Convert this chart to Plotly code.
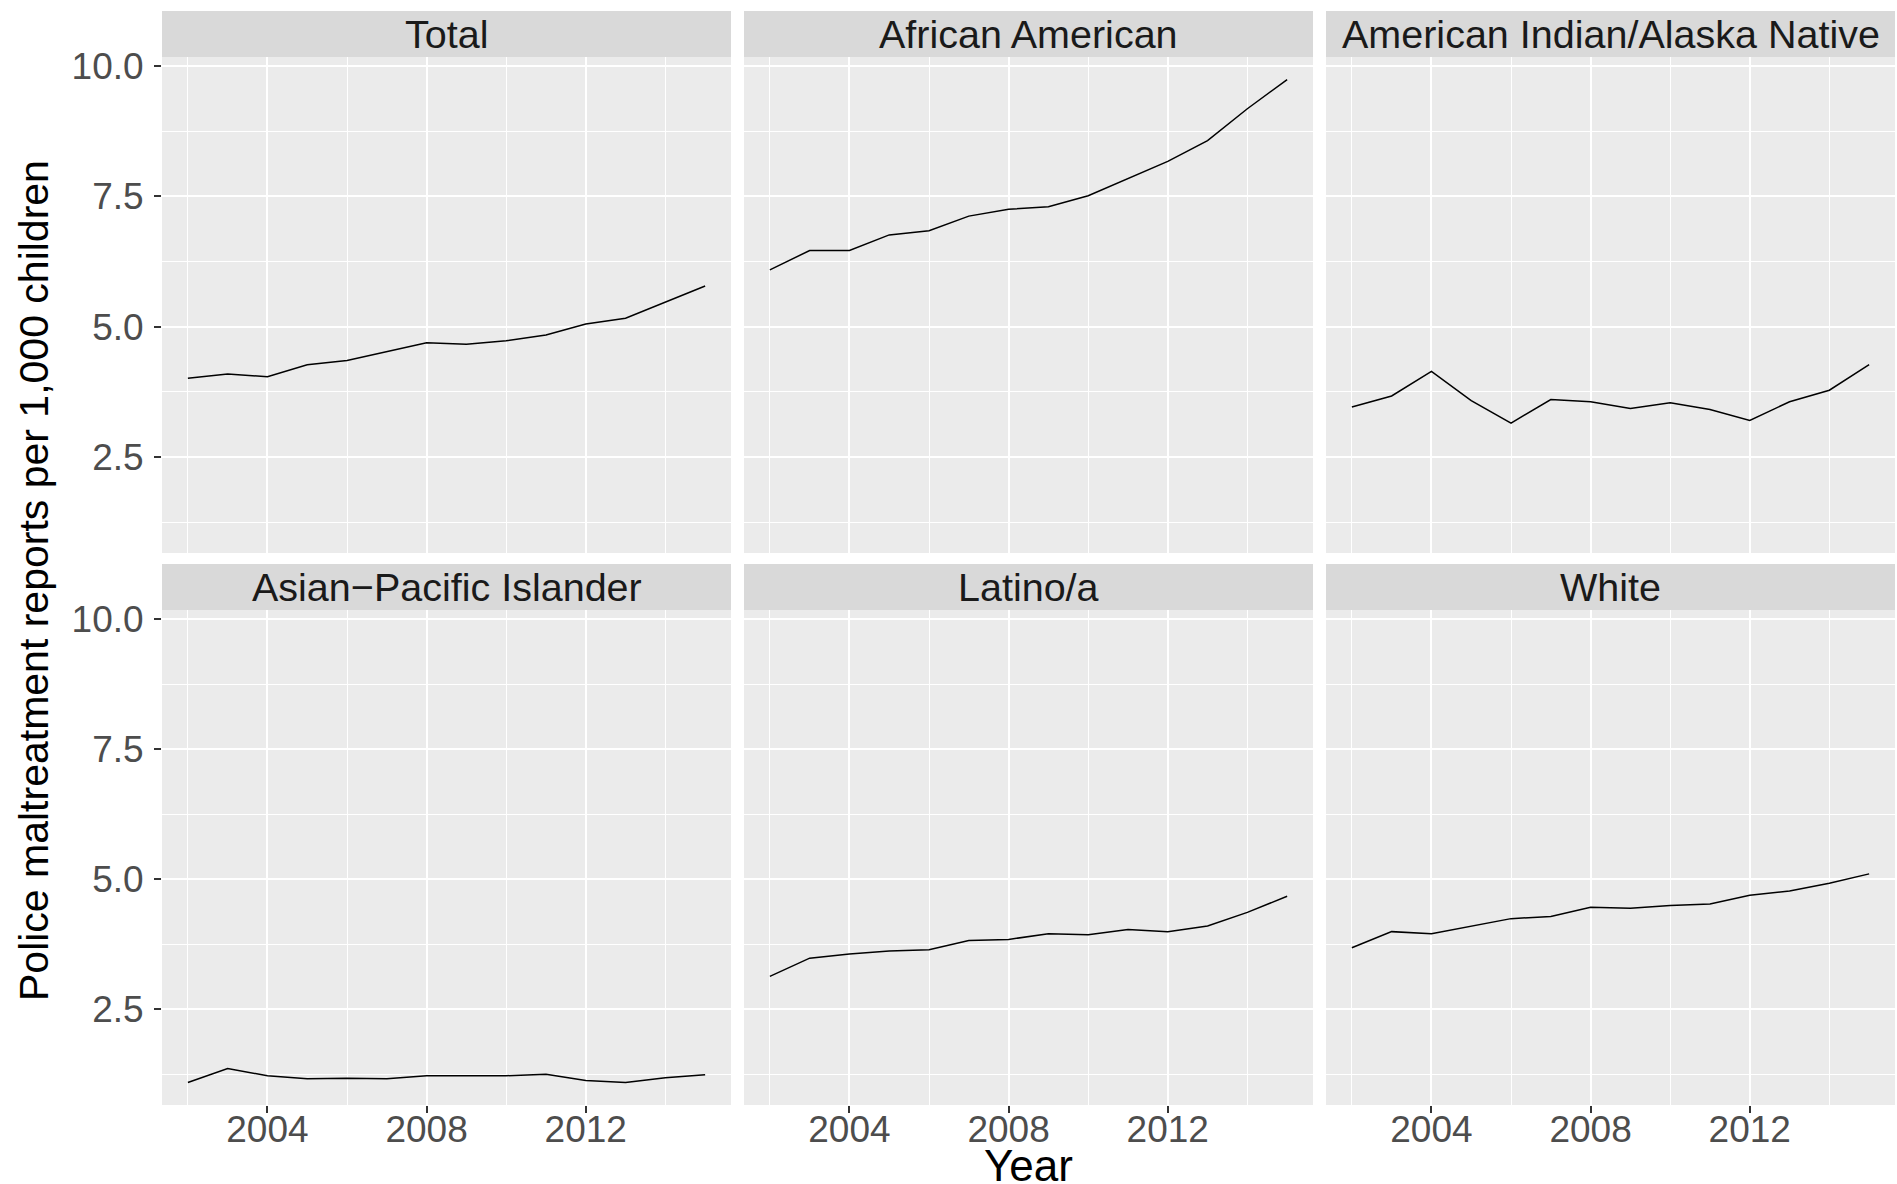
import plotly.graph_objects as go

# Reports per 1,000 children, 2002-2015
years = list(range(2002, 2016))
panel_titles = ["Total", "African American", "American Indian/Alaska Native",
                "Asian\u2212Pacific Islander", "Latino/a", "White"]

total = [4.01, 4.09, 4.04, 4.27, 4.35, 4.52, 4.69, 4.66, 4.73, 4.84, 5.05, 5.16, 5.47, 5.78]
african_american = [6.09, 6.46, 6.46, 6.76, 6.84, 7.12, 7.25, 7.30, 7.51, 7.84, 8.17, 8.57, 9.18, 9.74]
american_indian = [3.46, 3.67, 4.14, 3.58, 3.15, 3.60, 3.56, 3.43, 3.54, 3.41, 3.20, 3.56, 3.78, 4.27]
asian_pacific = [1.09, 1.36, 1.22, 1.16, 1.17, 1.16, 1.22, 1.22, 1.22, 1.25, 1.13, 1.09, 1.18, 1.24]
latino = [3.13, 3.48, 3.56, 3.62, 3.64, 3.82, 3.84, 3.95, 3.93, 4.03, 3.99, 4.10, 4.36, 4.67]
white = [3.68, 3.99, 3.95, 4.09, 4.24, 4.28, 4.46, 4.44, 4.49, 4.52, 4.69, 4.77, 4.92, 5.10]

x_ticks = [2004, 2008, 2012]
x_minor = [2002, 2006, 2010, 2014]
y_ticks = [2.5, 5.0, 7.5, 10.0]
y_minor = [1.25, 3.75, 6.25, 8.75]

series = [total, african_american, american_indian, asian_pacific, latino, white]

# page geometry (pixels)
W, H = 1897, 1184
cols = [(162, 731), (744, 1313), (1326, 1895)]
rows = [(57, 553), (610, 1105)]
strips = [(11, 57), (564, 610)]

# shared scales with 5% padding on each side
all_vals = [v for s in series for v in s]
lo, hi = min(all_vals), max(all_vals)
pad = (hi - lo) * 0.05
y_range = [lo - pad, hi + pad]
xpad = (years[-1] - years[0]) * 0.05
x_range = [years[0] - xpad, years[-1] + xpad]

FONT = "Liberation Sans, Arial, sans-serif"
PANEL_BG = "#EBEBEB"
STRIP_BG = "#D9D9D9"
TICK_FONT = dict(family=FONT, size=37, color="#4D4D4D")

fig = go.Figure()
shapes = []
annotations = []

for i, (title, vals) in enumerate(zip(panel_titles, series)):
    r, c = divmod(i, 3)
    n = i + 1
    xa = "x" if n == 1 else f"x{n}"
    ya = "y" if n == 1 else f"y{n}"
    fig.add_trace(go.Scatter(
        x=years, y=vals, mode="lines", xaxis=xa, yaxis=ya,
        line=dict(color="black", width=1.5), showlegend=False,
        hoverinfo="x+y",
    ))
    x0, x1 = cols[c]
    y0, y1 = rows[r]
    xdom = [x0 / W, x1 / W]
    ydom = [1 - y1 / H, 1 - y0 / H]
    bottom_row = r == 1
    left_col = c == 0
    fig.layout[f"xaxis{'' if n == 1 else n}"] = dict(
        domain=xdom, anchor=ya, range=x_range, automargin=False,
        tickmode="array", tickvals=x_ticks, ticktext=[str(t) for t in x_ticks],
        showticklabels=bottom_row,
        ticks="outside" if bottom_row else "", ticklen=7, tickwidth=1.5, tickcolor="#333333",
        ticklabelstandoff=-15,
        showgrid=True, gridcolor="white", gridwidth=2,
        minor=dict(tickvals=x_minor, showgrid=True, gridcolor="white", gridwidth=1, ticks=""),
        zeroline=False, showline=False,
        tickfont=TICK_FONT,
    )
    fig.layout[f"yaxis{'' if n == 1 else n}"] = dict(
        domain=ydom, anchor=xa, range=y_range, automargin=False,
        tickmode="array", tickvals=y_ticks, ticktext=[f"{t:.1f}" for t in y_ticks],
        showticklabels=left_col,
        ticks="outside" if left_col else "", ticklen=7, tickwidth=1.5, tickcolor="#333333",
        ticklabelstandoff=3,
        showgrid=True, gridcolor="white", gridwidth=2,
        minor=dict(tickvals=y_minor, showgrid=True, gridcolor="white", gridwidth=1, ticks=""),
        zeroline=False, showline=False,
        tickfont=TICK_FONT,
    )
    # panel background
    shapes.append(dict(type="rect", xref="paper", yref="paper", layer="below",
                       x0=xdom[0], x1=xdom[1], y0=ydom[0], y1=ydom[1],
                       fillcolor=PANEL_BG, line=dict(width=0)))
    # facet strip
    s0, s1 = strips[r]
    shapes.append(dict(type="rect", xref="paper", yref="paper", layer="below",
                       x0=xdom[0], x1=xdom[1], y0=1 - s1 / H, y1=1 - s0 / H,
                       fillcolor=STRIP_BG, line=dict(width=0)))
    annotations.append(dict(text=title, xref="paper", yref="paper",
                            x=(xdom[0] + xdom[1]) / 2, y=1 - (s0 + s1) / 2 / H,
                            xanchor="center", yanchor="middle", showarrow=False,
                            font=dict(family=FONT, size=39.5, color="#1A1A1A")))

annotations.append(dict(text="Police maltreatment reports per 1,000 children",
                        xref="paper", yref="paper", x=34 / W, y=1 - 581 / H,
                        textangle=-90, xanchor="center", yanchor="middle", showarrow=False,
                        font=dict(family=FONT, size=41, color="black")))
annotations.append(dict(text="Year", xref="paper", yref="paper",
                        x=1028 / W, y=1 - 1165 / H,
                        xanchor="center", yanchor="middle", showarrow=False,
                        font=dict(family=FONT, size=44, color="black")))

fig.update_layout(
    width=W, height=H, margin=dict(l=0, r=0, t=0, b=0, autoexpand=False),
    paper_bgcolor="white", plot_bgcolor=PANEL_BG,
    shapes=shapes, annotations=annotations,
)

fig.write_html("out.html")
